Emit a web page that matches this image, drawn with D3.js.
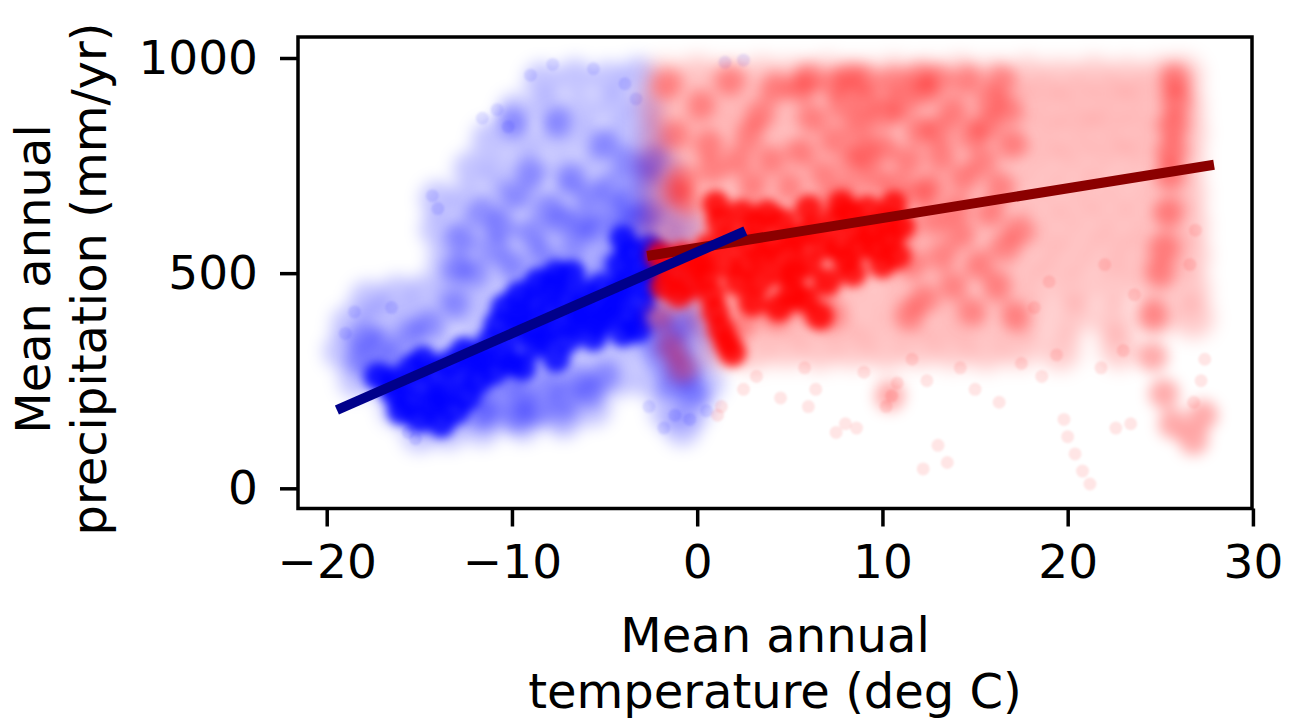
<!DOCTYPE html>
<html>
<head>
<meta charset="utf-8">
<script src="https://cdn.jsdelivr.net/npm/d3@7"></script>
<style>
  body { margin: 0; background: #fff; }
  text { font-family: "DejaVu Sans", sans-serif; fill: #000; }
</style>
</head>
<body>
<svg id="chart" width="1297" height="721"></svg>
<script>
// points as [temperature (deg C), precipitation (mm/yr)]
// blue = sites below 0 deg C, red = sites above; split by how dense the cloud looks
const blueHaze = [
  [-8.4,948],[-6.6,956],[-4.8,950],[-3.2,960],
  [-9.8,876],[-8.0,884],[-6.2,878],[-4.4,886],[-2.8,880],
  [-11.2,812],[-9.4,806],[-7.6,814],[-5.8,808],[-4.0,816],[-2.4,810],
  [-12.2,742],[-10.6,736],[-8.8,744],[-7.0,738],[-5.2,746],[-3.4,740],[-1.8,744],
  [-14.0,672],[-12.4,666],[-10.6,674],[-8.8,668],[-7.0,676],[-5.2,670],[-3.4,674],[-1.8,668],
  [-14.0,602],[-12.4,596],[-10.6,604],[-8.8,598],[-7.0,606],[-5.2,600],[-3.4,604],[-1.8,598],[-0.6,606],
  [-13.6,528],[-12.0,534],[-10.2,526],[-8.4,532],[-6.6,528],[-4.8,534],[-3.0,526],[-1.2,532],
  [-17.8,440],[-16.2,452],[-14.6,458],[-13.0,462],[-11.2,456],[-9.4,464],[-7.6,458],[-5.8,462],[-4.0,456],[-2.2,464],[-0.6,458],
  [-18.8,382],[-17.2,394],[-15.4,388],[-13.6,396],[-11.8,390],[-10.0,396],[-8.2,388],[-6.4,394],[-4.6,388],[-2.8,396],[-1.0,390],[0.3,384],
  [-19.2,318],[-17.6,324],[-15.8,316],[-14.0,322],[-12.2,318],[-10.4,324],[-8.6,316],[-6.8,322],[-5.0,318],[-3.2,324],[-1.4,316],[0.2,322],
  [-18.4,252],[-16.8,246],[-15.0,254],[-13.2,248],[-11.4,254],[-9.6,246],[-7.8,254],[-6.0,248],[-4.2,254],[-2.4,246],[-0.8,252],[0.5,244],
  [-16.2,184],[-14.6,176],[-12.8,184],[-11.0,178],[-9.2,186],[-7.4,180],[-5.6,186],[-1.6,178],[-0.2,184],
  [-15.0,126],[-13.4,132],[-11.6,140],[-9.4,150],[-7.2,158],[-0.8,140]
];
const blueMid = [
  [-18.2,300],[-17.4,270],[-17.0,340],[-16.4,300],[-16.0,250],[-18.0,350],
  [-12.0,230],[-11.0,200],[-10.2,250],[-9.4,215],[-8.6,180],[-8.0,240],[-7.2,205],[-6.4,250],[-5.8,220],[-5.0,260],[-11.6,170],[-9.8,165],
  [-12.0,500],[-11.0,560],[-10.0,520],[-9.0,590],[-8.2,540],[-7.4,620],[-6.6,560],[-5.6,600],[-4.8,520],[-4.4,640],[-10.6,610],
  [-5.8,680],[-4.6,700],[-3.6,660],[-2.8,720],[-3.0,620],
  [-2.2,400],[-1.6,360],[-1.0,320],[-2.0,300],[-0.6,270],[-1.4,240],[-0.2,220],[-2.6,350],[-0.8,380],
  [-13.0,430],[-14.5,380],[-15.5,360],
  [-9.4,440],[-8.4,470],[-7.4,450],[-6.4,480],
  [-11.6,640],[-9.8,680],[-8.0,650],[-6.2,620],[-4.0,600],[-3.8,760],[-6.8,720],[-9.0,730],
  [-5.0,800],[-7.5,850],[-10.0,850],[-12.8,580],[-13.0,510],[-2.6,640],[-2.4,760]
];
const blueDense = [
  [-15.6,200],[-15.0,160],[-15.0,240],[-14.4,190],[-14.2,270],[-13.8,150],[-13.6,220],[-13.0,180],[-12.8,260],[-12.4,210],
  [-14.8,300],[-16.4,250],[-17.2,260],[-16.4,225],
  [-12.0,300],[-11.2,340],[-11.0,270],[-10.4,310],[-9.8,360],[-9.4,280],[-8.8,330],[-8.0,370],[-7.6,300],[-7.0,345],
  [-9.6,400],[-8.8,430],[-8.0,410],[-7.2,440],[-6.4,400],[-6.0,450],[-5.4,380],[-4.8,420],[-4.2,460],[-3.6,390],
  [-3.0,430],[-2.6,470],[-5.2,470],[-4.0,360],[-3.2,370],
  [-4.2,520],[-3.6,550],[-3.0,510],[-2.6,560],
  [-16.0,180],[-15.4,280],[-14.0,210],[-13.4,290],[-12.6,320],[-11.6,300],[-11.8,250],[-10.8,380],[-10.0,290],
  [-9.2,380],[-8.4,350],[-7.8,470],[-6.8,380],[-6.2,420],[-5.6,350],[-5.0,400],[-4.4,430],[-3.8,480],
  [-2.4,500],[-2.2,540],[-4.0,580],
  [-9.6,450],[-8.6,480],[-7.6,500],[-10.4,420],[-6.8,500]
];
const blueDots = [
  [-9.0,960],[-7.8,985],[-5.6,975],[-3.9,940],[-3.3,905],[-10.8,880],[-11.6,860],[-10.2,840],
  [-14.3,680],[-14.0,650],[-18.5,410],[-19.0,360],[-16.5,420],[-15.2,115],[-15.6,130],
  [-1.2,170],[-0.4,160],[-2.6,190],[1.5,990],[2.5,995],[0.5,180],[-1.8,140]
];

const redHaze = [
  [-1.8,952],[0.0,958],[1.7,950],[3.5,956],[5.2,952],[7.0,958],[8.8,950],[10.6,956],[12.4,952],[14.2,958],[16.0,950],[17.8,956],[19.6,950],[21.4,956],[23.2,952],[25.0,954],[26.2,958],
  [-2.1,890],[-0.3,884],[1.5,892],[3.3,886],[5.1,894],[6.9,888],[8.7,884],[10.5,892],[12.3,886],[14.1,890],[15.9,884],[17.7,892],[19.5,886],[21.3,888],[23.1,892],[24.9,884],[26.3,890],
  [-2.0,826],[-0.2,820],[1.6,828],[3.4,822],[5.2,826],[7.0,820],[8.8,828],[10.6,824],[12.4,820],[14.2,828],[16.0,822],[17.8,826],[19.6,820],[21.4,828],[23.2,824],[25.0,820],[26.4,826],
  [-2.2,758],[-0.4,752],[1.4,760],[3.2,754],[5.0,762],[6.8,756],[8.6,752],[10.4,760],[12.2,754],[14.0,758],[15.8,752],[17.6,760],[19.4,754],[21.2,758],[23.0,762],[24.8,752],[26.3,758],
  [-2.0,686],[-0.2,680],[1.6,688],[3.4,682],[5.2,686],[7.0,680],[8.8,688],[10.6,684],[12.4,680],[14.2,688],[16.0,682],[17.8,686],[19.6,680],[21.4,688],[23.2,684],[25.0,680],[26.4,686],
  [-2.1,614],[-0.3,608],[1.5,616],[3.3,610],[5.1,614],[6.9,608],[8.7,616],[10.5,612],[12.3,608],[14.1,616],[15.9,610],[17.7,614],[19.5,608],[21.3,616],[23.1,612],[24.9,608],[26.5,614],
  [-1.6,542],[0.2,536],[2.0,544],[3.8,538],[5.6,542],[7.4,536],[9.2,544],[11.0,540],[12.8,536],[14.6,544],[16.4,538],[18.2,542],[20.0,536],[21.8,544],[23.6,540],[25.2,536],[26.6,542],
  [-1.0,470],[0.6,464],[2.4,472],[4.2,466],[6.0,470],[7.8,464],[9.6,472],[11.4,468],[13.2,464],[15.0,472],[16.8,466],[18.6,470],[20.6,464],[22.6,472],[24.6,468],[26.6,464],
  [0.2,398],[1.8,392],[3.6,400],[5.4,394],[7.2,398],[9.0,392],[10.8,400],[12.6,396],[14.4,392],[16.2,400],[18.0,394],[20.2,398],[22.4,392],[24.8,400],[26.8,396],
  [1.2,326],[3.0,320],[4.8,328],[6.6,322],[8.4,326],[10.2,320],[12.0,328],[13.8,324],[15.6,320],[17.4,328],[19.6,322],[22.8,326]
];
const redMid = [
  [5.0,700],[5.6,780],[6.2,860],[6.8,730],[7.4,810],[8.0,690],[8.4,760],[8.8,840],[9.2,900],[9.6,720],[10.0,790],[10.2,870],
  [10.8,700],[11.4,760],[12.0,830],[12.2,920],[12.6,700],[13.2,770],[13.8,880],[14.4,720],[14.8,820],[15.4,760],[15.8,900],
  [16.4,700],[17.0,800],[9.0,950],[10.6,945],[12.0,955],[14.6,950],[7.4,940],[5.6,930],
  [11.2,600],[11.6,520],[12.2,440],[12.8,620],[13.2,540],[13.8,470],[14.2,590],[14.8,410],[15.2,520],[15.8,640],
  [16.2,470],[16.6,560],[17.2,400],[17.4,600],[11.4,400],
  [2.6,450],[3.4,520],[4.2,600],[4.8,440],[5.4,520],[3.0,620],[2.4,380],[5.8,600],
  [4.2,400],[5.0,460],[6.0,420],[6.8,470],[7.2,400],
  [-0.8,720],[0.6,800],[2.2,760],[-1.2,690],[-0.6,670],
  [-1.6,940],[0.2,890],[1.8,950],[3.4,870],[-1.2,820],[0.8,740],[2.8,820],[4.0,760],[4.2,930],[3.0,700],
  [6.0,955],[7.8,890],[8.2,955],[11.0,890],[13.0,950],[13.0,830],[14.0,650],[15.6,840],[16.4,950],[16.8,880],
  [12.0,680],[9.0,780],[7.0,660],
  [25.8,950],[25.9,900],[25.7,840],[25.6,780],[25.5,730],[25.4,640],[25.2,560],
  [25.0,500],[24.6,400],[24.6,306],[25.2,220],[25.7,150],[26.8,112],[27.3,170],
  [-2.0,400],[-1.4,330],[-0.8,280],[10.4,215]
];
const redDense = [
  [0.6,560],[1.2,620],[1.8,580],[2.4,640],[2.8,570],[1.0,660],[3.2,610],
  [0.5,490],[0.8,450],[1.0,410],[1.3,370],[1.6,340],[1.9,315],[0.2,520],
  [-2.0,540],[-1.4,500],[-0.8,540],[-0.4,470],[-1.0,450],[0.0,520],[-1.8,470],
  [2.6,520],[3.4,480],[4.0,560],[4.6,500],[5.2,450],[3.0,430],[5.4,580],
  [6.8,560],[7.4,620],[8.0,530],[8.6,600],[9.2,650],[9.6,560],[10.2,620],[10.8,540],[7.8,660],[10.6,660],
  [4.4,420],[5.8,440],[6.6,400],
  [3.8,640],[4.6,620],[5.0,560],[6.0,520],[6.2,600],[7.0,480],[7.6,560],[8.4,500],[8.8,560],[9.4,600],
  [10.0,520],[10.4,580],[11.0,610],[3.6,540],[2.2,480],[1.6,520],[6.0,650],[8.2,640],[5.2,500]
];
const redDots = [
  [1.1,170],[1.3,190],[3.2,260],[4.5,210],[5.8,280],[6.4,230],[7.5,130],[8.0,150],[8.6,140],[9.0,270],
  [10.2,190],[10.5,215],[10.8,245],[11.6,300],[12.4,250],[13.0,100],[13.5,60],[12.2,45],[14.2,280],[15.0,230],
  [16.3,200],[17.5,290],[18.6,260],[19.4,310],[19.8,160],[20.0,120],[20.4,80],[20.8,40],[21.2,10],[22.6,140],
  [23.4,150],[21.8,280],[23.0,320],[26.8,200],[27.2,250],[27.4,300],[22.0,520],[19.0,480],[18.2,420],[23.6,450],
  [26.6,520],[26.9,600],[2.5,230],[6.0,190]
];

// fitted lines (end points)
const blueFitT = [-19.45, 2.6];
const blueFitP = [182, 598];
const redFitT = [-2.7, 27.9];
const redFitP = [540, 752];

const xTicks = [-20, -10, 0, 10, 20, 30];
const yTicks = [0, 500, 1000];

const svg = d3.select('#chart');
svg.append('rect').attr('width', 1297).attr('height', 721).attr('fill', '#fff');

const plotLeft = 298, plotRight = 1252, plotTop = 37, plotBottom = 508.5;
const x = d3.scaleLinear().domain([-21.55, 29.95]).range([plotLeft, plotRight]);
const y = d3.scaleLinear().domain([-46.9, 1048.8]).range([plotBottom, plotTop]);

const defs = svg.append('defs');
defs.append('clipPath').attr('id', 'plot-clip')
  .append('rect')
  .attr('x', plotLeft).attr('y', plotTop)
  .attr('width', plotRight - plotLeft).attr('height', plotBottom - plotTop);

// each layer: how it is drawn (blur softens the overlapping markers into a cloud)
const layers = [
  { data: blueHaze, color: '#0000ff', r: 18, op: 0.23, blur: 8 },
  { data: blueMid, color: '#0000ff', r: 15, op: 0.3, blur: 7 },
  { data: blueDense, color: '#0000ff', r: 14, op: 0.85, blur: 5 },
  { data: blueDots, color: '#0000ff', r: 6.5, op: 0.1, blur: 0.8 },
  { data: redHaze, color: '#ff0000', r: 20, op: 0.21, blur: 9 },
  { data: redMid, color: '#ff0000', r: 15, op: 0.33, blur: 7 },
  { data: redDense, color: '#ff0000', r: 14, op: 0.85, blur: 5 },
  { data: redDots, color: '#ff0000', r: 6.5, op: 0.1, blur: 0.8 }
];

const plot = svg.append('g').attr('clip-path', 'url(#plot-clip)');

layers.forEach((layer, i) => {
  const g = plot.append('g');
  defs.append('filter')
    .attr('id', 'blur' + i)
    .attr('x', '-20%').attr('y', '-20%')
    .attr('width', '140%').attr('height', '140%')
    .append('feGaussianBlur')
    .attr('stdDeviation', layer.blur);
  g.attr('filter', 'url(#blur' + i + ')');
  g.selectAll('circle')
    .data(layer.data)
    .join('circle')
    .attr('cx', d => x(d[0]))
    .attr('cy', d => y(d[1]))
    .attr('r', layer.r)
    .attr('fill', layer.color)
    .attr('fill-opacity', layer.op);
});

// red fit first, blue fit drawn over it
const fitLine = d3.line().x(d => x(d[0])).y(d => y(d[1]));
plot.append('path')
  .datum(redFitT.map((t, i) => [t, redFitP[i]]))
  .attr('d', fitLine)
  .attr('stroke', '#8b0000')
  .attr('stroke-width', 10)
  .attr('fill', 'none');
plot.append('path')
  .datum(blueFitT.map((t, i) => [t, blueFitP[i]]))
  .attr('d', fitLine)
  .attr('stroke', '#00008b')
  .attr('stroke-width', 10)
  .attr('fill', 'none');

// axes
const xAxis = svg.append('g')
  .attr('transform', `translate(0,${plotBottom})`)
  .call(d3.axisBottom(x).tickValues(xTicks).tickSize(18).tickSizeOuter(0).tickPadding(18));
const yAxis = svg.append('g')
  .attr('transform', `translate(${plotLeft},0)`)
  .call(d3.axisLeft(y).tickValues(yTicks).tickSize(18).tickSizeOuter(0).tickPadding(22).tickFormat(d3.format('d')));

[xAxis, yAxis].forEach(ax => {
  ax.select('.domain').remove();
  ax.selectAll('.tick line').attr('stroke', '#000').attr('stroke-width', 3.5);
  ax.selectAll('.tick text').attr('font-size', 47).attr('font-family', '"DejaVu Sans", sans-serif');
});

// frame
svg.append('rect')
  .attr('x', plotLeft).attr('y', plotTop)
  .attr('width', plotRight - plotLeft).attr('height', plotBottom - plotTop)
  .attr('fill', 'none')
  .attr('stroke', '#000')
  .attr('stroke-width', 3.5);

// axis titles
const xTitle = svg.append('text')
  .attr('text-anchor', 'middle')
  .attr('font-size', 48);
xTitle.append('tspan').attr('x', (plotLeft + plotRight) / 2).attr('y', 652).text('Mean annual');
xTitle.append('tspan').attr('x', (plotLeft + plotRight) / 2).attr('y', 708).text('temperature (deg C)');

const yTitle = svg.append('text')
  .attr('text-anchor', 'middle')
  .attr('font-size', 48)
  .attr('transform', 'translate(0,279) rotate(-90)');
yTitle.append('tspan').attr('x', 0).attr('y', 50).text('Mean annual');
yTitle.append('tspan').attr('x', 0).attr('y', 106).text('precipitation (mm/yr)');
</script>
</body>
</html>
